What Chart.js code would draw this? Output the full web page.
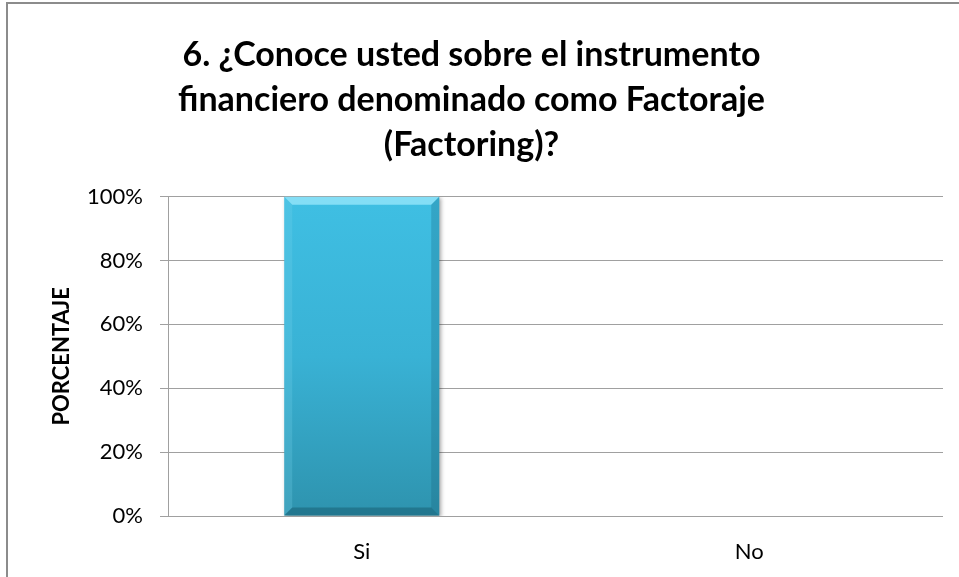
<!DOCTYPE html>
<html>
<head>
<meta charset="utf-8">
<script src="https://cdn.jsdelivr.net/npm/chart.js@4"></script>
<style>
  html, body { margin: 0; padding: 0; background: #fff; }
  #marco { position: absolute; left: 6px; top: 2px; width: 1000px; height: 700px;
           border-top: 2px solid #8c8c8c; border-left: 2px solid #8c8c8c; }
  #contenedor { position: absolute; left: 0; top: 0; width: 959px; height: 577px; }
</style>
</head>
<body>
<div id="marco"></div>
<div id="contenedor"><canvas id="graficaFactoraje" width="959" height="577"></canvas></div>
<script>
// datos de la grafica
const titulo = ['6. ¿Conoce usted sobre el instrumento', 'financiero denominado como Factoraje', '(Factoring)?'];
const categorias = ['Si', 'No'];
const porcentajes = [100, 0];
const tituloEjeY = 'PORCENTAJE';
const pasoEjeY = 20;
const maxEjeY = 100;

// biselado del bar al estilo Excel
const bisel = {
    id: 'bisel',
    afterDatasetsDraw(chart) {
        const ctx = chart.ctx;
        chart.getDatasetMeta(0).data.forEach(bar => {
            const izq = bar.x - bar.width / 2, der = bar.x + bar.width / 2;
            const arriba = Math.min(bar.y, bar.base), abajo = Math.max(bar.y, bar.base);
            if (abajo - arriba < 2) return;
            const b = 8;
            ctx.save();
            // arriba claro
            ctx.fillStyle = 'rgba(150, 230, 250, 0.8)';
            ctx.beginPath();
            ctx.moveTo(izq, arriba); ctx.lineTo(der, arriba); ctx.lineTo(der - b, arriba + b); ctx.lineTo(izq + b, arriba + b);
            ctx.closePath(); ctx.fill();
            // izquierda
            ctx.fillStyle = 'rgba(120, 210, 235, 0.25)';
            ctx.beginPath();
            ctx.moveTo(izq, arriba); ctx.lineTo(izq + b, arriba + b); ctx.lineTo(izq + b, abajo - b); ctx.lineTo(izq, abajo);
            ctx.closePath(); ctx.fill();
            // derecha
            ctx.fillStyle = 'rgba(20, 90, 115, 0.25)';
            ctx.beginPath();
            ctx.moveTo(der, arriba); ctx.lineTo(der - b, arriba + b); ctx.lineTo(der - b, abajo - b); ctx.lineTo(der, abajo);
            ctx.closePath(); ctx.fill();
            // abajo oscuro
            ctx.fillStyle = 'rgba(20, 85, 105, 0.45)';
            ctx.beginPath();
            ctx.moveTo(izq, abajo); ctx.lineTo(der, abajo); ctx.lineTo(der - b, abajo - b); ctx.lineTo(izq + b, abajo - b);
            ctx.closePath(); ctx.fill();
            ctx.restore();
        });
    },
    beforeDatasetsDraw(chart) {
        chart.ctx.save();
        chart.ctx.shadowColor = 'rgba(0,0,0,0.35)';
        chart.ctx.shadowBlur = 4;
        chart.ctx.shadowOffsetX = 2;
        chart.ctx.shadowOffsetY = 1;
    },
    afterDatasetDraw(chart) {
        chart.ctx.restore();
    }
};

let ctx = document.getElementById('graficaFactoraje').getContext('2d');
new Chart(ctx, {
    type: 'bar',
    data: {
        labels: categorias,
        datasets: [{
            label: 'Porcentaje',
            data: porcentajes,
            backgroundColor: function (context) {
                const area = context.chart.chartArea;
                if (!area) return '#3cb8dc';
                const g = context.chart.ctx.createLinearGradient(0, area.top, 0, area.bottom);
                g.addColorStop(0, '#3fbfe3');
                g.addColorStop(0.5, '#39b2d5');
                g.addColorStop(1, '#2e93ae');
                return g;
            },
            borderWidth: 0,
            barPercentage: 0.4,
            categoryPercentage: 1
        }]
    },
    options: {
        responsive: false,
        animation: false,
        layout: { padding: { left: 0, right: 16, top: 0, bottom: 0 } },
        plugins: {
            legend: { display: false },
            tooltip: { enabled: false },
            title: {
                display: true,
                text: titulo,
                color: '#000',
                font: { family: 'Lato', size: 34, weight: 'bold', lineHeight: 1.32 },
                padding: { top: 33, bottom: 29 }
            }
        },
        scales: {
            x: {
                grid: { display: false, drawTicks: false },
                border: { display: false },
                ticks: { color: '#000', padding: 23, font: { family: 'Lato', size: 22 } },
                afterFit: scale => { scale.height = 61; }
            },
            y: {
                min: 0,
                max: maxEjeY,
                ticks: {
                    stepSize: pasoEjeY,
                    color: '#000',
                    padding: 17,
                    font: { family: 'Lato', size: 22 },
                    callback: v => v + '%'
                },
                grid: { color: '#a0a0a0', lineWidth: 1, tickLength: 8 },
                border: { color: '#a0a0a0' },
                title: {
                    display: true,
                    text: tituloEjeY,
                    color: '#000',
                    font: { family: 'Lato', size: 22, weight: 'bold', lineHeight: 1.2 },
                    padding: { top: 49, bottom: 0 }
                },
                afterFit: scale => { scale.width = 168; }
            }
        }
    },
    plugins: [bisel]
});
</script>
</body>
</html>
